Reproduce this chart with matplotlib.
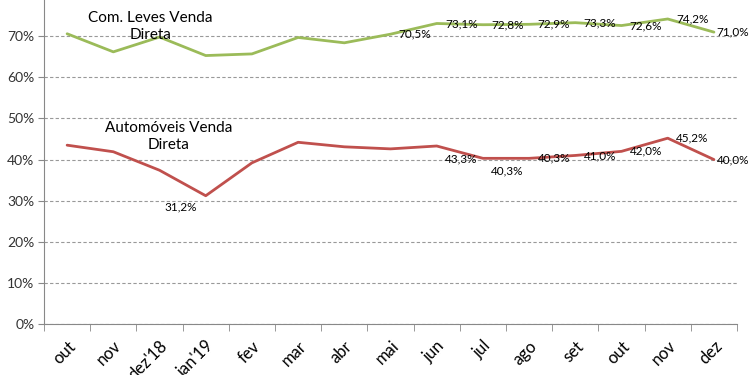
import matplotlib.pyplot as plt
import numpy as np

from matplotlib import rcParams
rcParams['font.family'] = 'sans-serif'
rcParams['font.sans-serif'] = ['Lato', 'DejaVu Sans']
rcParams['font.size'] = 10

months = ['out', 'nov', "dez'18", "jan'19", 'fev', 'mar', 'abr', 'mai',
          'jun', 'jul', 'ago', 'set', 'out', 'nov', 'dez']

com_leves = [70.6, 66.2, 69.8, 65.3, 65.7, 69.7, 68.4, 70.5,
             73.1, 72.8, 72.9, 73.3, 72.6, 74.2, 71.0]
automoveis = [43.5, 41.9, 37.4, 31.2, 39.2, 44.2, 43.1, 42.6,
              43.3, 40.3, 40.3, 41.0, 42.0, 45.2, 40.0]

# which points get a value label
labels_green = [7, 8, 9, 10, 11, 12, 13, 14]
labels_red = [3, 8, 9, 10, 11, 12, 13, 14]

green = '#9BBB59'
red = '#C0504D'

fig = plt.figure(figsize=(7.5, 3.75), dpi=100)
ax = fig.add_axes([0.0587, 0.136, 0.924, 0.877])

x = np.arange(len(months))
ax.plot(x, com_leves, color=green, lw=2.0, solid_capstyle='round')
ax.plot(x, automoveis, color=red, lw=2.0, solid_capstyle='round')

ax.set_xlim(-0.5, len(months) - 0.5)
ax.set_ylim(0, 80)
ax.set_yticks(np.arange(0, 80, 10))
ax.set_yticklabels(['%d%%' % v for v in range(0, 80, 10)], color='#333333')
ax.yaxis.grid(True, linestyle=(0, (3, 2)), color='#999999', lw=0.8)
ax.set_axisbelow(True)

ax.set_xticks(x)
ax.set_xticklabels(months, rotation=45, ha='right', va='top',
                   rotation_mode='anchor', fontsize=12)
ax.set_xticks(np.arange(-0.5, len(months)), minor=True)
ax.tick_params(axis='x', which='major', length=0, pad=10)
ax.tick_params(axis='x', which='minor', length=5, color='#888888')
ax.tick_params(axis='y', length=4, color='#888888', pad=3)

for s in ['top', 'right']:
    ax.spines[s].set_visible(False)
for s in ['left', 'bottom']:
    ax.spines[s].set_color('#888888')

def fmt(v):
    return ('%.1f%%' % v).replace('.', ',')

last = len(months) - 1

for i in labels_green:
    dx = 2 if i == last else 6
    ax.annotate(fmt(com_leves[i]), (x[i], com_leves[i]), xytext=(dx, 0),
                textcoords='offset points', ha='left', va='center', fontsize=8.5)

for i in labels_red:
    if i == 3:
        off, ha = (-18, -8), 'center'
    elif i in (8, 9):
        off, ha = (6, -9), 'left'
    elif i == last:
        off, ha = (2, 0), 'left'
    else:
        off, ha = (6, 0), 'left'
    ax.annotate(fmt(automoveis[i]), (x[i], automoveis[i]), xytext=off,
                textcoords='offset points', ha=ha, va='center', fontsize=8.5)

ax.text(1.8, 72.4, 'Com. Leves Venda\nDireta', ha='center', va='center',
        fontsize=11, linespacing=1.3)
ax.text(2.2, 45.6, 'Automóveis Venda\nDireta', ha='center', va='center',
        fontsize=11, linespacing=1.3)

plt.savefig('out.png', dpi=100)
